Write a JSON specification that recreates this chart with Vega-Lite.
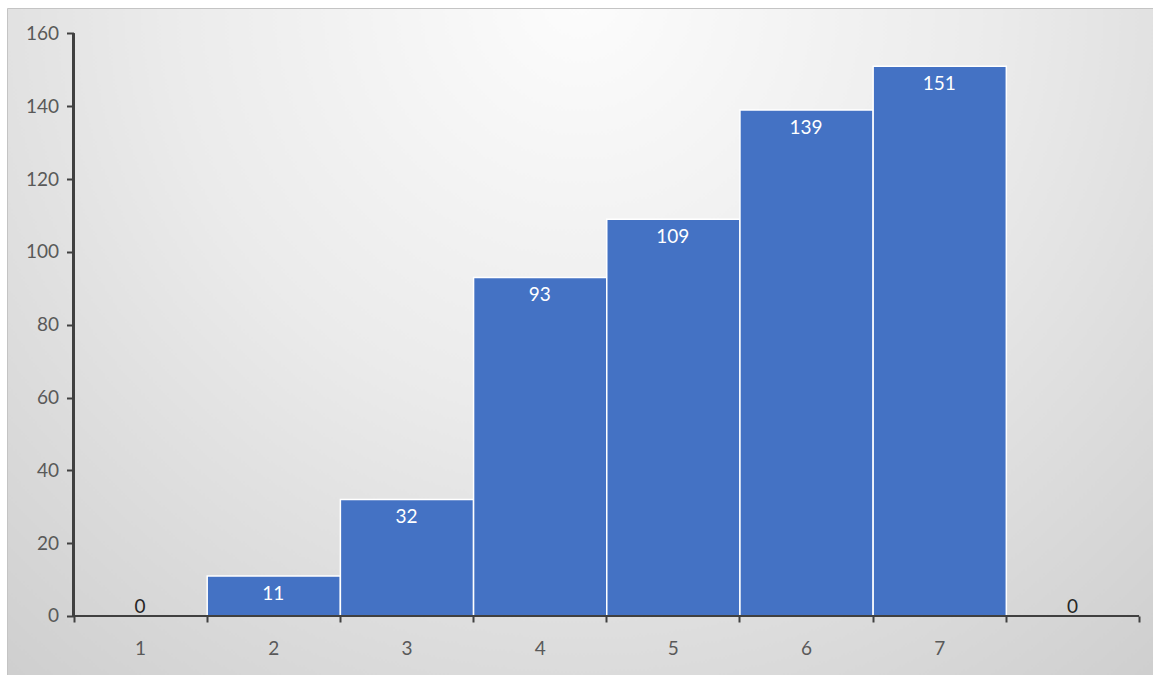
{
  "$schema": "https://vega.github.io/schema/vega-lite/v6.json",
  "autosize": "none",
  "padding": {"left": 7, "top": 8, "right": 0, "bottom": 0},
  "width": 1146,
  "height": 667,
  "background": "white",
  "config": {
    "view": {
      "fill": {
        "gradient": "radial",
        "x1": 0.5, "y1": 0.2, "r1": 0,
        "x2": 0.5, "y2": 0.2, "r2": 0.9,
        "stops": [
          {"offset": 0, "color": "#fcfcfc"},
          {"offset": 0.4, "color": "#ebebeb"},
          {"offset": 1, "color": "#c6c6c6"}
        ]
      },
      "stroke": "#c4c4c4",
      "strokeWidth": 1
    },
    "axis": {
      "labelFont": "Lato",
      "labelFontSize": 19,
      "labelColor": "#595959",
      "tickColor": "#404040",
      "tickWidth": 2,
      "domain": false,
      "grid": false,
      "title": null
    }
  },
  "data": {
    "values": [
      {"bin_start": 0, "bin_end": 1, "count": 0},
      {"bin_start": 1, "bin_end": 2, "count": 11},
      {"bin_start": 2, "bin_end": 3, "count": 32},
      {"bin_start": 3, "bin_end": 4, "count": 93},
      {"bin_start": 4, "bin_end": 5, "count": 109},
      {"bin_start": 5, "bin_end": 6, "count": 139},
      {"bin_start": 6, "bin_end": 7, "count": 151},
      {"bin_start": 7, "bin_end": 8, "count": 0}
    ]
  },
  "layer": [
    {
      "transform": [{"filter": "datum.count > 0"}],
      "mark": {"type": "rect", "fill": "#4472C4", "stroke": "white", "strokeWidth": 1.5},
      "encoding": {
        "x": {
          "field": "bin_start",
          "bin": "binned",
          "type": "quantitative",
          "title": null,
          "scale": {"domain": [-0.4993, 8.105], "nice": false, "zero": false},
          "axis": {
            "values": [0, 0.5, 1, 1.5, 2, 2.5, 3, 3.5, 4, 4.5, 5, 5.5, 6, 6.5, 7, 7.5, 8],
            "offset": -59,
            "tickSize": 6,
            "tickOpacity": {"condition": {"test": "datum.value % 1 == 0", "value": 1}, "value": 0},
            "labelExpr": "(datum.value % 1 == 0.5 && datum.value < 7) ? '' + (datum.value + 0.5) : ''",
            "labelPadding": 17,
            "labelFlush": false,
            "labelOverlap": false,
            "title": null
          }
        },
        "x2": {"field": "bin_end"},
        "y": {
          "field": "count",
          "type": "quantitative",
          "title": null,
          "scale": {"domain": [-16.21, 167.0], "nice": false, "zero": false},
          "axis": {
            "values": [0, 20, 40, 60, 80, 100, 120, 140, 160],
            "offset": -66.5,
            "tickSize": 7,
            "labelPadding": 8,
            "labelFlush": false,
            "labelOverlap": false,
            "title": null
          }
        },
        "y2": {"datum": 0}
      }
    },
    {
      "mark": {"type": "rule", "color": "#404040", "strokeWidth": 2},
      "encoding": {
        "x": {"datum": 0, "type": "quantitative", "title": null},
        "y": {"datum": 0, "type": "quantitative", "title": null},
        "y2": {"datum": 160}
      }
    },
    {
      "mark": {"type": "rule", "color": "#404040", "strokeWidth": 2},
      "encoding": {
        "x": {"datum": 0, "type": "quantitative", "title": null},
        "x2": {"datum": 8},
        "y": {"datum": 0, "type": "quantitative", "title": null}
      }
    },
    {
      "transform": [{"filter": "datum.count > 0"}],
      "mark": {"type": "text", "font": "Lato", "fontSize": 19, "color": "white", "baseline": "top", "align": "center", "dy": 9, "dx": 66.6},
      "encoding": {
        "x": {"field": "bin_start", "type": "quantitative", "title": null},
        "y": {"field": "count", "type": "quantitative", "title": null},
        "text": {"field": "count", "type": "quantitative"}
      }
    },
    {
      "transform": [{"filter": "datum.count == 0"}],
      "mark": {"type": "text", "font": "Lato", "fontSize": 19, "color": "#262626", "baseline": "alphabetic", "align": "center", "dy": -3, "dx": 66.6},
      "encoding": {
        "x": {"field": "bin_start", "type": "quantitative", "title": null},
        "y": {"field": "count", "type": "quantitative", "title": null},
        "text": {"field": "count", "type": "quantitative"}
      }
    }
  ]
}
